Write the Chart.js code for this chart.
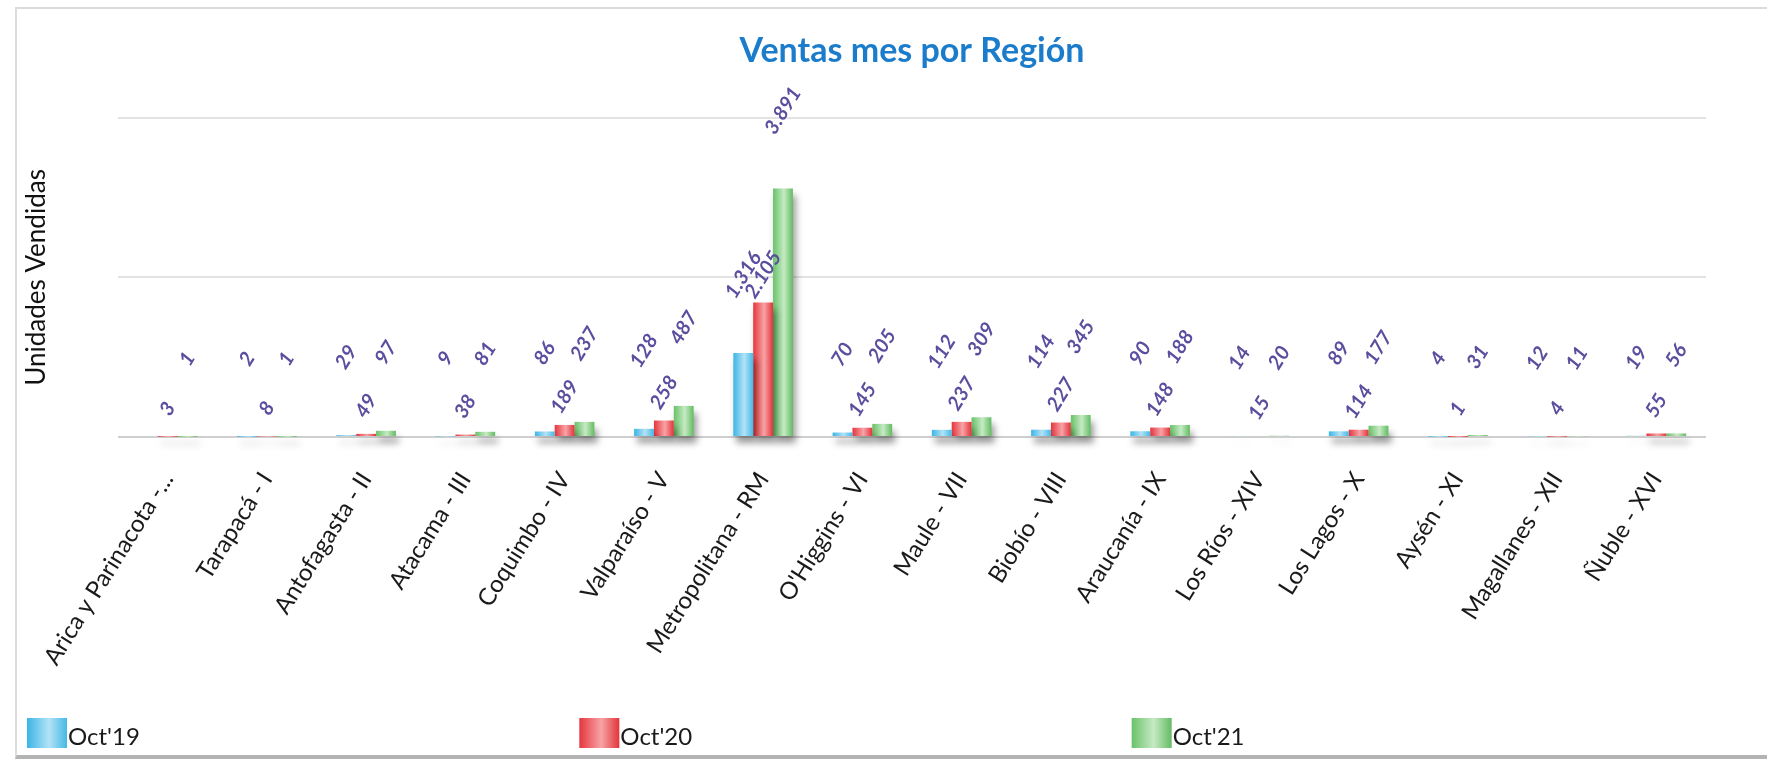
<!DOCTYPE html>
<html>
<head>
<meta charset="utf-8">
<title>Ventas mes por Región</title>
<script src="https://cdn.jsdelivr.net/npm/chart.js"></script>
<style>
  html, body { margin: 0; padding: 0; background: #fff; overflow: hidden; }
  #frame {
    position: absolute; left: 15px; top: 7px; width: 1800px; height: 746px;
    border-top: 2px solid #dcdcdc; border-left: 2px solid #dcdcdc;
    border-bottom: 4px solid #b3b3b3;
  }
  #wrap { position: absolute; left: 0; top: 0; width: 1767px; height: 760px; }
</style>
</head>
<body>
<div id="frame"></div>
<div id="wrap"><canvas id="myChart"></canvas></div>
<script>
var regiones = ["Arica y Parinacota -...", "Tarapacá - I", "Antofagasta - II", "Atacama - III",
  "Coquimbo - IV", "Valparaíso - V", "Metropolitana - RM", "O'Higgins - VI", "Maule - VII",
  "Biobío - VIII", "Araucanía - IX", "Los Ríos - XIV", "Los Lagos - X", "Aysén - XI",
  "Magallanes - XII", "Ñuble - XVI"];

var series = ["Oct'19", "Oct'20", "Oct'21"];

var oct19 = [0, 2, 29, 9, 86, 128, 1316, 70, 112, 114, 90, 14, 89, 4, 12, 19];
var oct20 = [3, 8, 49, 38, 189, 258, 2105, 145, 237, 227, 148, 15, 114, 1, 4, 55];
var oct21 = [1, 1, 97, 81, 237, 487, 3891, 205, 309, 345, 188, 20, 177, 31, 11, 56];

var yTicks = [0, 2500, 5000];

// base, highlight, edge
var colores = [
  ["#3ab5e6", "#b3e2f6", "#45b9e7"],
  ["#e5363c", "#f7a3a6", "#e2343a"],
  ["#68c268", "#c6eac4", "#62bc62"]
];

function miles(v) {
  return String(v).replace(/\B(?=(\d{3})+(?!\d))/g, ".");
}

function shade(ctx, x0, x1, c) {
  var g = ctx.createLinearGradient(x0, 0, x1, 0);
  g.addColorStop(0, c[0]);
  g.addColorStop(0.55, c[1]);
  g.addColorStop(1, c[2]);
  return g;
}

// gradient + soft shadow on the bars
var barLook = {
  id: 'barLook',
  beforeDatasetsDraw: function(chart) {
    chart.data.datasets.forEach(function(ds, i) {
      chart.getDatasetMeta(i).data.forEach(function(bar) {
        var h = bar.width / 2;
        bar.options.backgroundColor = shade(chart.ctx, bar.x - h, bar.x + h, colores[i]);
      });
    });
  },
  beforeDatasetDraw: function(chart) {
    var ctx = chart.ctx;
    ctx.save();
    ctx.shadowColor = "rgba(0,0,0,0.4)";
    ctx.shadowBlur = 7;
    ctx.shadowOffsetX = 3;
    ctx.shadowOffsetY = 7;
  },
  afterDatasetDraw: function(chart) {
    chart.ctx.restore();
  }
};

// rotated value labels, middle series sits lower
var valueLabels = {
  id: 'valueLabels',
  afterDatasetsDraw: function(chart) {
    var ctx = chart.ctx;
    ctx.save();
    ctx.font = "italic bold 20px Lato";
    ctx.fillStyle = "#5a4e9f";
    ctx.textAlign = "center";
    ctx.textBaseline = "middle";
    chart.data.datasets.forEach(function(ds, i) {
      var lift = i === 1 ? 28 : 78;
      chart.getDatasetMeta(i).data.forEach(function(bar, j) {
        var v = ds.data[j];
        if (!v) return;
        ctx.save();
        ctx.translate(bar.x, bar.y - lift);
        ctx.rotate(-58 * Math.PI / 180);
        ctx.fillText(miles(v), 0, 0);
        ctx.restore();
      });
    });
    ctx.restore();
  }
};

// legend spread along the bottom
var bottomLegend = {
  id: 'bottomLegend',
  afterDraw: function(chart) {
    var ctx = chart.ctx;
    var step = (chart.width - 110) / 3;
    ctx.save();
    ctx.font = "24px Lato";
    ctx.textBaseline = "alphabetic";
    chart.data.datasets.forEach(function(ds, i) {
      var x = 27 + i * step;
      var y = chart.height - 42;
      ctx.fillStyle = shade(ctx, x, x + 40, colores[i]);
      ctx.fillRect(x, y, 40, 30);
      ctx.fillStyle = "#1a1a1a";
      ctx.fillText(ds.label, x + 41, y + 27);
    });
    ctx.restore();
  }
};

var baseColor = function(i) {
  return function() { return colores[i][0]; };
};

var ctx = document.getElementById("myChart").getContext("2d");
var myChart = new Chart(ctx, {
  type: 'bar',
  data: {
    labels: regiones,
    datasets: [
      { label: series[0], data: oct19, backgroundColor: baseColor(0), clip: false },
      { label: series[1], data: oct20, backgroundColor: baseColor(1), clip: false },
      { label: series[2], data: oct21, backgroundColor: baseColor(2), clip: false }
    ]
  },
  options: {
    responsive: true,
    maintainAspectRatio: false,
    animation: false,
    events: [],
    datasets: { bar: { categoryPercentage: 0.6, barPercentage: 1 } },
    layout: { padding: { left: 0, right: 61, top: 0, bottom: 0 } },
    plugins: {
      legend: { display: false },
      tooltip: { enabled: false },
      title: {
        display: true,
        text: 'Ventas mes por Región',
        fullSize: false,
        color: '#1c7ccc',
        font: { family: 'Lato', size: 34, weight: 'bold' },
        padding: { top: 31, bottom: 46 }
      }
    },
    scales: {
      x: {
        grid: { display: false },
        border: { display: false },
        ticks: {
          autoSkip: false,
          minRotation: 58,
          maxRotation: 58,
          padding: 22,
          color: '#1a1a1a',
          font: { family: 'Lato', size: 24 }
        },
        afterFit: function(s) { s.height = 323; }
      },
      y: {
        min: yTicks[0],
        max: yTicks[yTicks.length - 1],
        afterBuildTicks: function(s) { s.ticks = yTicks.map(function(v) { return { value: v }; }); },
        border: { display: false },
        grid: {
          drawTicks: false,
          lineWidth: 2,
          color: function(c) { return c.tick && c.tick.value === 0 ? '#cfcfcf' : '#e3e3e3'; }
        },
        ticks: { display: false },
        title: {
          display: true,
          text: 'Unidades Vendidas',
          color: '#111',
          font: { family: 'Lato', size: 26 },
          padding: { top: 21, bottom: 10 }
        },
        afterFit: function(s) { s.width = 118; }
      }
    }
  },
  plugins: [barLook, valueLabels, bottomLegend]
});
</script>
</body>
</html>
